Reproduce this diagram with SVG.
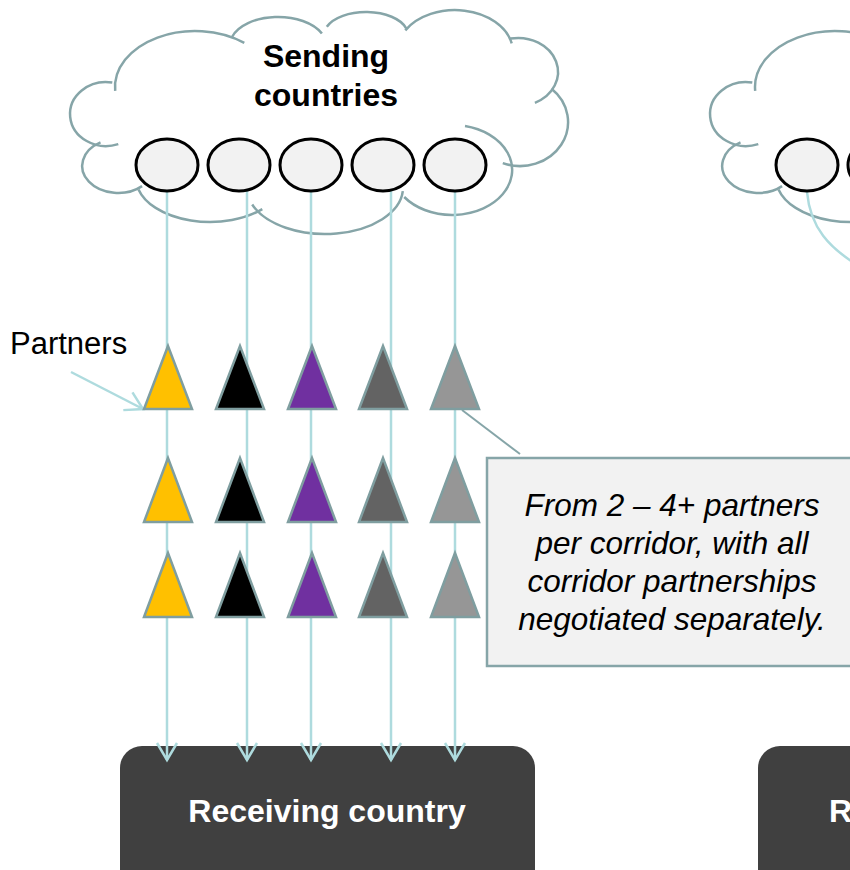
<svg xmlns="http://www.w3.org/2000/svg" width="850" height="870" viewBox="0 0 850 870">
<style>
.lobe{fill:none;stroke:#86a5a8;stroke-width:2.5}
.ctry{fill:#f2f2f2;stroke:#000;stroke-width:3}
.tri{stroke:#7f9ea0;stroke-width:2.5;stroke-linejoin:miter}
.conn{fill:none;stroke:#aedbde;stroke-width:2.5}
.lead{fill:none;stroke:#86a5a8;stroke-width:2}
.lbl{font-family:"Liberation Sans",Arial,sans-serif;fill:#000}
</style>
<defs>
<marker id="v" markerUnits="userSpaceOnUse" markerWidth="22" markerHeight="24" refX="17" refY="10" orient="auto" overflow="visible">
<path d="M0,0 L17,10 L0,20" fill="none" stroke="#aedbde" stroke-width="2.5"/>
</marker>
<g id="cloudShape">
<path class="lobe" d="M142.1,186.1 A36,27 0 1 1 100.5,142.4"/>
<path class="lobe" d="M118.3,144.1 A36,32 0 1 1 112.3,82.5"/>
<path class="lobe" d="M115.2,90.9 A80,56 0 0 1 244.3,42.9"/>
<path class="lobe" d="M232,37 A48,28 0 0 1 321.9,33.6"/>
<path class="lobe" d="M326.8,26.8 A42,23 0 0 1 406.2,28.3"/>
<path class="lobe" d="M405.3,30.4 A58,42 0 0 1 511.7,43.3"/>
<path class="lobe" d="M510.4,38.6 A40,34 0 0 1 534.9,102.8"/>
<path class="lobe" d="M551.5,88.8 A48,44 0 0 1 502.8,163.1"/>
<path class="lobe" d="M465,126 A60,45 0 1 1 404.2,197"/>
<path class="lobe" d="M402.8,191.2 A78,46 0 0 1 252.2,204.5"/>
<path class="lobe" d="M262.3,209.1 A74,44 0 0 1 138.5,189.4"/>
</g>
</defs>

<g id="sending-cloud">
<use href="#cloudShape"/>
<text class="lbl" x="326" y="67" font-size="32" font-weight="bold" text-anchor="middle">Sending</text>
<text class="lbl" x="326" y="106" font-size="32" font-weight="bold" text-anchor="middle">countries</text>
</g>
<g id="sending-cloud-2">
<use href="#cloudShape" transform="translate(640,0)"/>
</g>

<g id="receiving-country">
<rect x="120" y="746" width="415" height="150" rx="22" fill="#404040"/>
<text class="lbl" x="327" y="822" font-size="32" font-weight="bold" text-anchor="middle" style="fill:#fff">Receiving country</text>
</g>
<g id="receiving-country-2">
<rect x="758" y="746" width="415" height="150" rx="22" fill="#404040"/>
<text class="lbl" x="829" y="822" font-size="32" font-weight="bold" style="fill:#fff">R</text>
</g>

<g id="connectors">
<line class="conn" x1="167" y1="192" x2="167" y2="760" marker-end="url(#v)"/>
<line class="conn" x1="247" y1="191" x2="247" y2="760" marker-end="url(#v)"/>
<line class="conn" x1="311" y1="192" x2="311" y2="760" marker-end="url(#v)"/>
<line class="conn" x1="391" y1="191" x2="391" y2="760" marker-end="url(#v)"/>
<line class="conn" x1="455" y1="192" x2="455" y2="760" marker-end="url(#v)"/>
<line class="conn" x1="71" y1="372" x2="143" y2="409" marker-end="url(#v)"/>
<path class="conn" d="M807,192 C810,225 826,249 870,272"/>
<line class="lead" x1="462" y1="410" x2="520" y2="454"/>
</g>

<g id="countries">
<ellipse class="ctry" cx="167" cy="165" rx="31" ry="26"/>
<ellipse class="ctry" cx="239" cy="165" rx="31" ry="26"/>
<ellipse class="ctry" cx="311" cy="165" rx="31" ry="26"/>
<ellipse class="ctry" cx="383" cy="165" rx="31" ry="26"/>
<ellipse class="ctry" cx="455" cy="165" rx="31" ry="26"/>
<ellipse class="ctry" cx="807" cy="165" rx="31" ry="26"/>
<ellipse class="ctry" cx="879" cy="165" rx="31" ry="26"/>
</g>

<g id="partners-label">
<text class="lbl" x="10" y="354" font-size="31">Partners</text>
</g>

<g id="partners">
<polygon class="tri" fill="#ffc000" points="168,346 144,409 192,409"/>
<polygon class="tri" fill="#000000" points="240,346 216,409 264,409"/>
<polygon class="tri" fill="#7030a0" points="312,346 288,409 336,409"/>
<polygon class="tri" fill="#636363" points="383,346 359,409 407,409"/>
<polygon class="tri" fill="#969696" points="455,346 431,409 479,409"/>
<polygon class="tri" fill="#ffc000" points="168,458 144,522 192,522"/>
<polygon class="tri" fill="#000000" points="240,458 216,522 264,522"/>
<polygon class="tri" fill="#7030a0" points="312,458 288,522 336,522"/>
<polygon class="tri" fill="#636363" points="383,458 359,522 407,522"/>
<polygon class="tri" fill="#969696" points="455,458 431,522 479,522"/>
<polygon class="tri" fill="#ffc000" points="168,553 144,617 192,617"/>
<polygon class="tri" fill="#000000" points="240,553 216,617 264,617"/>
<polygon class="tri" fill="#7030a0" points="312,553 288,617 336,617"/>
<polygon class="tri" fill="#636363" points="383,553 359,617 407,617"/>
<polygon class="tri" fill="#969696" points="455,553 431,617 479,617"/>
</g>

<g id="callout">
<rect x="487" y="458" width="380" height="208" fill="#f2f2f2" stroke="#86a5a8" stroke-width="2.5"/>
<g class="lbl" font-size="31.5" font-style="italic" text-anchor="middle">
<text x="672" y="516">From 2 – 4+ partners</text>
<text x="672" y="554">per corridor, with all</text>
<text x="672" y="592">corridor partnerships</text>
<text x="672" y="630">negotiated separately.</text>
</g>
</g>
</svg>
